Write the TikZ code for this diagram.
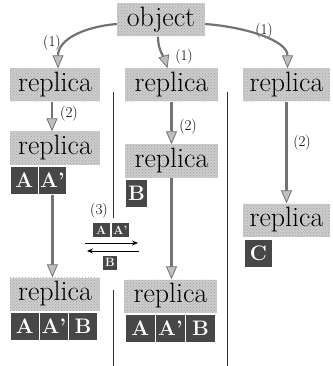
\documentclass[tikz,border=0pt]{standalone}
\usepackage{fontspec}
\usetikzlibrary{arrows.meta,patterns}
\begin{document}
\begin{tikzpicture}[x=1pt,y=-1pt,
  rep/.style={preaction={fill=black!20}, pattern=crosshatch dots, pattern color=black!35, inner sep=0pt, minimum height=33pt, font=\fontsize{28}{28}\selectfont\addfontfeature{FakeBold=0.5}, text=black},
  lbox/.style={fill=black!72, draw=white, line width=0.8pt, minimum width=28pt, minimum height=28pt, inner sep=0pt, anchor=north west, text=white, font=\fontsize{21}{21}\selectfont\bfseries},
  sbox/.style={fill=black!72, draw=white, line width=0.6pt, minimum width=18pt, minimum height=15pt, inner sep=0pt, anchor=north west, text=white, font=\fontsize{12}{12}\selectfont\bfseries},
  garrow/.style={draw=black!55, line width=2.2pt, -{Triangle[length=13pt,width=11pt,fill=black!25,line width=0.8pt]}},
  lab/.style={font=\fontsize{15}{15}\selectfont, inner sep=0pt},
  sep/.style={draw=black!80, line width=0.8pt},
  xarrow/.style={draw=black, line width=0.8pt, -{Stealth[length=6pt,width=5pt]}}
]
\useasboundingbox (0,0) rectangle (332,366);
% separators
\draw[sep] (113,92) -- (113,218);
\draw[sep] (113,290) -- (113,366);
\draw[sep] (227,92) -- (227,366);
% nodes
\node[rep, minimum width=88pt] (object) at (161,20) {object};
\node[rep, minimum width=90pt] (r1) at (55,85) {replica};
\node[rep, minimum width=93pt] (m1) at (171.5,85) {replica};
\node[rep, minimum width=87pt] (g1) at (286.5,85) {replica};
\node[rep, minimum width=90pt] (r2) at (55,148) {replica};
\node[lbox] (ra) at (10,166) {A};
\node[lbox] (rb) at (38,166) {A’};
\node[rep, minimum width=93pt] (m2) at (171.5,161) {replica};
\node[lbox, minimum width=22pt] (mb) at (125,179) {B};
\node[rep, minimum width=87pt] (g2) at (286.5,220) {replica};
\node[lbox] (gc) at (244,239) {C};
\node[rep, minimum width=90pt] (r3) at (55,294) {replica};
\node[lbox, minimum width=29pt] (r3a) at (10,312) {A};
\node[lbox, minimum width=29pt] (r3b) at (39,312) {A’};
\node[lbox, minimum width=29pt] (r3c) at (68,312) {B};
\node[rep, minimum width=93pt] (m3) at (170.5,296) {replica};
\node[lbox, minimum width=30pt] (m3a) at (125,314) {A};
\node[lbox, minimum width=30pt] (m3b) at (155,314) {A’};
\node[lbox, minimum width=30pt] (m3c) at (185,314) {B};
% exchange
\node[sbox] (xa) at (92,222) {A};
\node[sbox] (xb) at (111,222) {A’};
\node[sbox, minimum width=15pt] (xc) at (102,255) {B};
\coordinate (e1) at (85,243);
\coordinate (e2) at (138,243);
\coordinate (e3) at (139,251);
\coordinate (e4) at (87,251);
\draw[xarrow] (e1) -- (e2);
\draw[xarrow] (e3) -- (e4);
% labels
\node[lab] (l1a) at (52,43) {(1)};
\node[lab] (l1b) at (184,57) {(1)};
\node[lab] (l1c) at (264,31) {(1)};
\node[lab] (l2a) at (69,114) {(2)};
\node[lab] (l2b) at (188,127) {(2)};
\node[lab] (l2c) at (302,143) {(2)};
\node[lab] (l3) at (99,211) {(3)};
% arrows
\draw[garrow] ([yshift=-4pt]object.west) .. controls +(-35,3) and +(0,-28) .. ([xshift=3pt]r1.north);
\draw[garrow] ([yshift=-4pt]object.east) .. controls +(40,3) and +(0,-28) .. ([xshift=1pt]g1.north);
\draw[garrow] ([xshift=-3pt]object.south) .. controls +(0,14) and +(-3,-10) .. ([xshift=-4pt]m1.north);
\draw[garrow] ([xshift=-3pt]r1.south) -- ([xshift=-3pt]r2.north);
\draw[garrow] (rb.south) -- (rb.south |- r3.north);
\draw[garrow] (m1.south) -- (m2.north);
\draw[garrow] (m2.south) -- (m2.south |- m3.north);
\draw[garrow] (g1.south) -- (g2.north);
\end{tikzpicture}
\end{document}
